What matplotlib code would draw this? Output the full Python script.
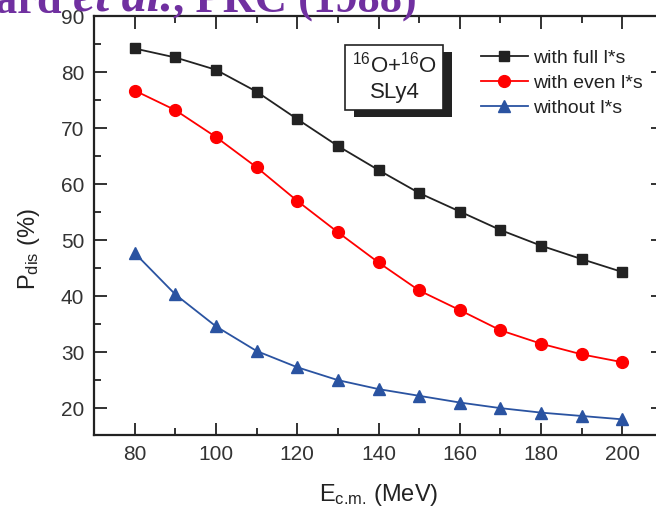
import matplotlib
matplotlib.use('Agg')
import matplotlib.pyplot as plt
import matplotlib.patheffects as pe
from matplotlib.ticker import MultipleLocator

plt.rcParams['font.family'] = ['Liberation Sans', 'DejaVu Sans']
plt.rcParams['mathtext.fontset'] = 'custom'
plt.rcParams['mathtext.rm'] = 'Liberation Sans'
plt.rcParams['mathtext.default'] = 'regular'

# data
e_cm = [80, 90, 100, 110, 120, 130, 140, 150, 160, 170, 180, 190, 200]
p_full = [84.2, 82.6, 80.4, 76.5, 71.6, 66.8, 62.5, 58.4, 55.1, 51.8, 49.0, 46.6, 44.3]
p_even = [76.7, 73.2, 68.4, 63.0, 57.0, 51.4, 46.0, 41.0, 37.5, 33.9, 31.5, 29.6, 28.2]
p_none = [47.7, 40.3, 34.6, 30.2, 27.3, 25.0, 23.4, 22.2, 21.0, 20.0, 19.2, 18.6, 18.0]

series = [
    ('with full l*s', p_full, '#222222', 's', 7.5),
    ('with even l*s', p_even, '#ff0000', 'o', 8.5),
    ('without l*s', p_none, '#2a53a1', '^', 9),
]

fig = plt.figure(figsize=(6.56, 5.13), dpi=100)
ax = fig.add_axes([0.1433, 0.152, 0.8674, 0.8168])

for label, vals, col, mk, ms in series:
    ax.plot(e_cm, vals, color=col, marker=mk, markersize=ms, lw=1.3,
            label=label)

ax.set_xlim(70, 210)
ax.set_ylim(15.2, 90)
ax.xaxis.set_major_locator(MultipleLocator(20))
ax.xaxis.set_minor_locator(MultipleLocator(10))
ax.yaxis.set_major_locator(MultipleLocator(10))
ax.yaxis.set_minor_locator(MultipleLocator(5))
ax.tick_params(which='both', direction='in', top=True, right=True,
               color='#222222', width=1.3, labelsize=15,
               labelcolor='#333333', pad=7)
ax.tick_params(which='major', length=9)
ax.tick_params(which='minor', length=5)
for sp in ax.spines.values():
    sp.set_linewidth(1.6)
    sp.set_color('#222222')

ax.set_xlabel(r'E$_{\text{c.m.}}$ (MeV)', fontsize=17, color='#222222')
ax.xaxis.set_label_coords(0.5, -0.113)
ax.set_ylabel(r'P$_{\mathrm{dis}}$ (%)', fontsize=17, color='#222222')
ax.yaxis.set_label_coords(-0.092, 0.444)

leg = ax.legend(loc='upper left', bbox_to_anchor=(0.68, 0.92),
                frameon=False, fontsize=14, handlelength=2.4,
                handletextpad=0.28, labelspacing=0.37, borderaxespad=0,
                borderpad=0)
for t in leg.get_texts():
    t.set_color('#222222')

box = ax.text(0.528, 0.854, '$^{16}$O+$^{16}$O\nSLy4', transform=ax.transAxes,
              ha='center', va='center', multialignment='center', fontsize=16,
              color='#222222', linespacing=1.3,
              bbox=dict(boxstyle='square,pad=0.3', fc='white', ec='#222222',
                        lw=1.2))
box.get_bbox_patch().set_path_effects([
    pe.SimplePatchShadow(offset=(6, -5), shadow_rgbFace='#222222', alpha=1),
    pe.Normal()])

# cut-off purple caption along the top edge
title_kw = dict(fontfamily='Liberation Serif', fontweight='bold',
                color='#7030a0', annotation_clip=False)
t1 = ax.annotate('ard ', xy=(-0.008, 0.958), xycoords='figure fraction',
                 va='bottom', fontsize=32, **title_kw)
t2 = ax.annotate('et al.', xy=(1, 0), xycoords=t1, va='bottom',
                 fontstyle='italic', fontsize=36, **title_kw)
ax.annotate(', PRC (1988)', xy=(1, 0), xycoords=t2, va='bottom',
            fontsize=32, **title_kw)

fig.savefig('out.png', dpi=100)
